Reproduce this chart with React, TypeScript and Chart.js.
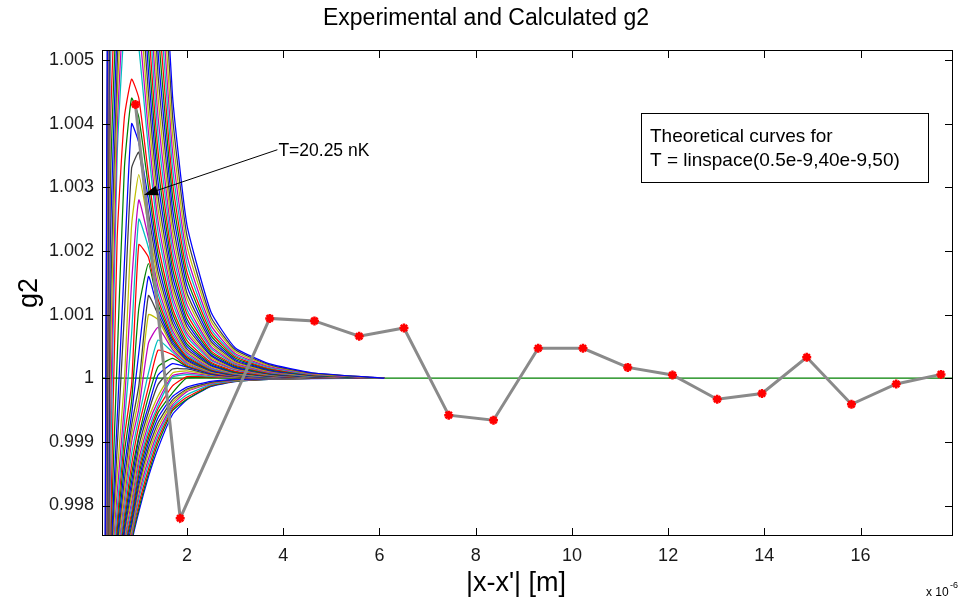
import React, { useEffect, useRef } from 'react';
import { Chart, registerables } from 'chart.js';

Chart.register(...registerables);

// ---------- axis settings ----------
const X_MIN = 0.235;
const X_MAX = 17.92;
const Y_MIN = 0.997521;
const Y_MAX = 1.005157;

const X_TICKS = [2, 4, 6, 8, 10, 12, 14, 16];
const X_TICK_LABELS = ['2', '4', '6', '8', '10', '12', '14', '16'];
const Y_TICKS = [0.998, 0.999, 1, 1.001, 1.002, 1.003, 1.004, 1.005];
const Y_TICK_LABELS = ['0.998', '0.999', '1', '1.001', '1.002', '1.003', '1.004', '1.005'];

// ---------- experimental data (|x-x'| in um, g2) ----------
const EXP_X = [0.93, 1.86, 3.72, 4.65, 5.58, 6.51, 7.44, 8.37, 9.3, 10.23, 11.16, 12.09, 13.02, 13.95, 14.88, 15.81, 16.74, 17.67];
const EXP_G2 = [1.0043, 0.9978, 1.00094, 1.0009, 1.00066, 1.00079, 0.99942, 0.99934, 1.00047, 1.00047, 1.00017, 1.00005, 0.99967, 0.99976, 1.00033, 0.99959, 0.99991, 1.00006];

// ---------- baseline g2 = 1 ----------
const BASE_X = [0.235, 17.92];
const BASE_G2 = [1, 1];

// ---------- theoretical curves (50 temperatures) ----------
// sample positions (um)
const THEORY_X = [0.235, 0.4, 0.55, 0.7, 0.85, 1.0, 1.2, 1.4, 1.7, 2.0, 2.5, 3.0, 3.7, 4.6, 6.1];
// g2 - 1 in units of 1e-4, one row per temperature (lowest T first)
const THEORY_DEV_E4 = [
  [-400, -180, -90, -45, -26, -21, -15.5, -11, -5.7, -3.4, -1.3, -0.55, -0.2, -0.05, 0],
  [-395, -175, -88, -43, -25.7, -20.5, -15, -10.2, -5.1, -3.3, -1.2, -0.5, -0.17, -0.04, 0],
  [-390, -170, -86, -41, -25.2, -19.8, -14.3, -9.6, -4.8, -3.0, -1.1, -0.45, -0.15, -0.03, 0],
  [-385, -165, -84, -39, -24.8, -19, -13.5, -9, -4.5, -2.6, -1.0, -0.4, -0.13, -0.03, 0],
  [-380, -160, -82, -37, -24.3, -18.3, -12.7, -8.4, -4.2, -2.1, -0.85, -0.35, -0.11, -0.02, 0],
  [-375, -155, -78, -30, -23.7, -17.5, -11.8, -7.7, -3.8, -1.9, -0.75, -0.3, -0.1, -0.02, 0],
  [-370, -150, -74, -29, -23.1, -16.8, -11, -7, -3.4, -1.7, -0.65, -0.25, -0.08, -0.02, 0],
  [-365, -145, -70, -27.7, -22.5, -16, -10.2, -6.2, -2.9, -1.4, -0.5, -0.2, -0.06, -0.01, 0],
  [-360, -140, -66, -27.2, -21.8, -15.2, -9.5, -5.4, -2.3, 0.05, 0.1, 0.05, 0.02, 0, 0],
  [-355, -135, -62, -26.7, -21.1, -14.4, -8.8, -4.8, -1.2, 0.25, 0.2, 0.08, 0.03, 0, 0],
  [-350, -130, -58, -26.2, -20.3, -13.6, -8.1, -4.3, 0.15, 0.55, 0.3, 0.12, 0.04, 0, 0],
  [-345, -125, -54, -25.6, -19.4, -12.7, -7.2, -3.6, 0.4, 0.83, 0.4, 0.16, 0.05, 0, 0],
  [-340, -120, -50, -24.9, -18.5, -11.7, -6.3, -2.8, 0.8, 1.15, 0.5, 0.2, 0.06, 0.01, 0],
  [-335, -115, -38, -24.2, -17.4, -10.7, -5.3, -1.0, 1.45, 1.45, 0.6, 0.25, 0.07, 0.01, 0],
  [-330, -110, -35, -23.4, -16.3, -9.5, -4.4, 0.5, 2.3, 1.75, 0.7, 0.28, 0.08, 0.01, 0],
  [-410, -37.5, -30, -22.5, -15, -9.1, -2.9, 1.8, 3.1, 1.85, 0.8, 0.3, 0.09, 0.02, 0],
  [-400, -37, -29.5, -21.5, -13.6, -7.5, -1.4, 4.4, 3.7, 2.0, 0.85, 0.32, 0.1, 0.02, 0],
  [-390, -37, -29, -20.4, -11.9, -6.2, 0.8, 6.0, 4.1, 2.2, 0.9, 0.35, 0.11, 0.02, 0],
  [-380, -37, -28, -19, -10, -4.8, 5.5, 8.0, 4.5, 2.4, 0.95, 0.38, 0.12, 0.02, 0],
  [-370, -37, -27.3, -17.7, -8.8, -3.2, 10, 9.2, 4.9, 2.6, 1.0, 0.42, 0.14, 0.03, 0],
  [-360, -37, -26.4, -16, -7.4, -1.2, 13, 10, 5.3, 2.8, 1.1, 0.46, 0.15, 0.03, 0],
  [-350, -37, -25.3, -14, -5.7, 4, 16, 10.8, 5.7, 3.0, 1.2, 0.5, 0.17, 0.03, 0],
  [-340, -36, -24, -11.7, -3.6, 11, 18, 11.6, 6.1, 3.2, 1.3, 0.55, 0.19, 0.04, 0],
  [-330, -36, -22.5, -9.3, -1, 21, 19, 12.4, 6.5, 3.4, 1.4, 0.6, 0.21, 0.04, 0],
  [-320, -36, -20.6, -7.2, 7, 25, 20.5, 13.3, 7.0, 3.7, 1.5, 0.66, 0.23, 0.05, 0],
  [-310, -35, -18, -4.3, 15, 28, 22, 14.3, 7.5, 4.0, 1.65, 0.73, 0.26, 0.05, 0],
  [-300, -35, -15, -0.5, 24, 32, 24, 15.5, 8.1, 4.3, 1.8, 0.8, 0.28, 0.06, 0],
  [-290, -34, -11, 10, 33, 35.5, 26, 16.7, 8.7, 4.6, 1.95, 0.88, 0.31, 0.07, 0],
  [-280, -33, -6.5, 18, 40, 37, 28, 18, 9.4, 5.0, 2.1, 0.95, 0.34, 0.08, 0],
  [-270, -31, 3, 33, 44, 41, 30, 19.5, 10.2, 5.4, 2.3, 1.0, 0.37, 0.09, 0],
  [-260, -30, 22, 41, 47, 44, 32, 21, 11, 5.9, 2.5, 1.1, 0.4, 0.1, 0],
  [-250, -20, 35, 55, 58, 52, 36, 23, 12, 6.5, 2.8, 1.3, 0.5, 0.15, 0],
  [-244, -10.6, 39, 60, 62.4, 55.9, 38.7, 24.7, 12.9, 7.0, 3.0, 1.4, 0.55, 0.17, 0],
  [-239, -1.1, 44, 65, 67.1, 60.1, 41.6, 26.6, 13.9, 7.5, 3.2, 1.5, 0.6, 0.19, 0],
  [-233, 8.3, 49, 71, 72.1, 64.7, 44.8, 28.6, 14.9, 8.1, 3.5, 1.62, 0.66, 0.21, 0],
  [-228, 17.8, 55, 78, 77.6, 69.6, 48.2, 30.8, 16.1, 8.7, 3.7, 1.75, 0.72, 0.23, 0],
  [-222, 27.2, 61, 85, 83.4, 74.8, 51.8, 33.1, 17.3, 9.3, 4.0, 1.9, 0.78, 0.25, 0],
  [-217, 36.7, 68, 92, 89.7, 80.4, 55.7, 35.6, 18.6, 10.1, 4.3, 2.05, 0.85, 0.28, 0],
  [-211, 46.1, 76, 101, 96.5, 86.5, 59.9, 38.3, 20.0, 10.8, 4.7, 2.2, 0.93, 0.31, 0],
  [-206, 55.6, 85, 110, 103.8, 93.0, 64.4, 41.1, 21.5, 11.6, 5.0, 2.38, 1.0, 0.34, 0],
  [-200, 65, 96, 120, 111.6, 100, 69.3, 44.2, 23.1, 12.5, 5.4, 2.56, 1.1, 0.37, 0],
  [-194, 74.4, 107, 130, 120, 107.6, 74.5, 47.6, 24.8, 13.4, 5.8, 2.75, 1.2, 0.41, 0],
  [-189, 83.9, 119, 142, 129, 115.7, 80.1, 51.2, 26.7, 14.5, 6.2, 2.95, 1.3, 0.45, 0],
  [-183, 93.3, 133, 155, 138.8, 124.4, 86.1, 55.0, 28.7, 15.6, 6.7, 3.17, 1.42, 0.5, 0],
  [-178, 102.8, 149, 169, 149.2, 133.8, 92.6, 59.2, 30.9, 16.7, 7.2, 3.4, 1.55, 0.55, 0],
  [-172, 112.2, 167, 184, 160.5, 143.9, 99.6, 63.6, 33.2, 18.0, 7.7, 3.65, 1.7, 0.6, 0],
  [-167, 121.7, 186, 201, 172.6, 154.7, 107.1, 68.4, 35.7, 19.3, 8.3, 3.9, 1.85, 0.66, 0],
  [-161, 131.1, 208, 219, 185.6, 166.4, 115.2, 73.6, 38.4, 20.8, 9.0, 4.2, 2.0, 0.72, 0],
  [-156, 140.6, 233, 239, 199.6, 178.9, 123.9, 79.1, 41.3, 22.4, 9.6, 4.5, 2.15, 0.79, 0],
  [-150, 150, 260, 260, 214.6, 192.4, 133.2, 85.1, 44.4, 24.1, 10.4, 4.8, 2.3, 0.86, 0],
];

// MATLAB (pre-2014) line colour order
const LINE_COLORS = ['#0000ff', '#008000', '#ff0000', '#00bfbf', '#bf00bf', '#bfbf00', '#404040'];

// ---------- annotations ----------
const TITLE = 'Experimental and Calculated g2';
const X_LABEL = "|x-x'| [m]";
const Y_LABEL = 'g2';
const NOTE_LINES = ['Theoretical curves for', 'T = linspace(0.5e-9,40e-9,50)'];
const ARROW_TEXT = 'T=20.25 nK';
const ARROW_FROM = { x: 3.88, y: 1.00359 };
const ARROW_TO = { x: 1.107, y: 1.00288 };

const FONT = '"Liberation Sans", Arial, Helvetica, sans-serif';

const decorPlugin = {
  id: 'decor',
  afterDraw(chart: any) {
    const { ctx, chartArea: a, scales } = chart;
    const xs = scales.x;
    const ys = scales.y;
    ctx.save();
    ctx.strokeStyle = '#000';
    ctx.lineWidth = 1;
    // axes box
    ctx.strokeRect(Math.round(a.left) + 0.5, Math.round(a.top) + 0.5, Math.round(a.right - a.left) - 1, Math.round(a.bottom - a.top) - 1);
    const tl = 8;
    ctx.beginPath();
    X_TICKS.forEach((v) => {
      const px = Math.round(xs.getPixelForValue(v)) + 0.5;
      ctx.moveTo(px, a.bottom);
      ctx.lineTo(px, a.bottom - tl);
      ctx.moveTo(px, a.top);
      ctx.lineTo(px, a.top + tl);
    });
    Y_TICKS.forEach((v) => {
      const py = Math.round(ys.getPixelForValue(v)) + 0.5;
      ctx.moveTo(a.left, py);
      ctx.lineTo(a.left + tl, py);
      ctx.moveTo(a.right, py);
      ctx.lineTo(a.right - tl, py);
    });
    ctx.stroke();

    ctx.fillStyle = '#000';
    // title
    ctx.font = `23px ${FONT}`;
    ctx.textAlign = 'center';
    ctx.textBaseline = 'middle';
    ctx.fillText(TITLE, 486, 19);
    // x label
    ctx.font = `27px ${FONT}`;
    ctx.fillText(X_LABEL, 516, 584);
    // y label
    ctx.save();
    ctx.translate(30, 293);
    ctx.rotate(-Math.PI / 2);
    ctx.fillText(Y_LABEL, 0, 0);
    ctx.restore();
    // exponent
    ctx.textAlign = 'left';
    ctx.font = `12px ${FONT}`;
    ctx.fillText('x 10', 926, 593);
    ctx.font = `9px ${FONT}`;
    ctx.fillText('-6', 950, 586);

    // note box
    const bx = 641, by = 113, bw = 287, bh = 69;
    ctx.fillStyle = '#fff';
    ctx.fillRect(bx, by, bw, bh);
    ctx.strokeRect(bx + 0.5, by + 0.5, bw, bh);
    ctx.fillStyle = '#000';
    ctx.font = `19px ${FONT}`;
    ctx.textAlign = 'left';
    ctx.fillText(NOTE_LINES[0], bx + 9, by + 24);
    ctx.fillText(NOTE_LINES[1], bx + 9, by + 48);

    // arrow annotation
    const fx = xs.getPixelForValue(ARROW_FROM.x);
    const fy = ys.getPixelForValue(ARROW_FROM.y);
    const tx = xs.getPixelForValue(ARROW_TO.x);
    const ty = ys.getPixelForValue(ARROW_TO.y);
    const ang = Math.atan2(ty - fy, tx - fx);
    const hl = 14, hw = 5;
    const bxp = tx - hl * Math.cos(ang);
    const byp = ty - hl * Math.sin(ang);
    ctx.beginPath();
    ctx.moveTo(fx, fy);
    ctx.lineTo(bxp, byp);
    ctx.stroke();
    ctx.beginPath();
    ctx.moveTo(tx, ty);
    ctx.lineTo(bxp + hw * Math.sin(ang), byp - hw * Math.cos(ang));
    ctx.lineTo(bxp - hw * Math.sin(ang), byp + hw * Math.cos(ang));
    ctx.closePath();
    ctx.fill();
    ctx.font = `17.5px ${FONT}`;
    ctx.textBaseline = 'middle';
    ctx.fillText(ARROW_TEXT, fx + 1, fy + 1);
    ctx.restore();
  },
};

export default function App() {
  const ref = useRef<HTMLCanvasElement | null>(null);
  useEffect(() => {
    if (!ref.current) return;
    const theorySets = THEORY_DEV_E4.map((row, k) => ({
      data: row.map((d, i) => ({ x: THEORY_X[i], y: 1 + d * 1e-4 })),
      borderColor: LINE_COLORS[k % LINE_COLORS.length],
      borderWidth: 1.25,
      pointRadius: 0,
      showLine: true,
      fill: false,
      tension: 0.15,
      clip: 0,
      order: 100 - k,
    }));
    const chart = new Chart(ref.current, {
      type: 'scatter',
      data: {
        datasets: [
          {
            data: EXP_X.map((x, i) => ({ x, y: EXP_G2[i] })),
            borderColor: '#8a8a8a',
            borderWidth: 3,
            showLine: true,
            pointStyle: 'star',
            pointRadius: 4.5,
            pointBorderWidth: 2.5,
            pointBorderColor: '#ff0000',
            pointBackgroundColor: '#ff0000',
            clip: 0,
            order: 0,
          } as any,
          ...theorySets,
          {
            data: BASE_X.map((x, i) => ({ x, y: BASE_G2[i] })),
            borderColor: '#008000',
            borderWidth: 1.2,
            pointRadius: 0,
            showLine: true,
            clip: 0,
            order: 500,
          },
        ],
      },
      options: {
        responsive: false,
        animation: false,
        events: [],
        layout: { padding: { top: 50, right: 1, bottom: 0, left: 0 } },
        plugins: { legend: { display: false }, tooltip: { enabled: false }, title: { display: false } },
        scales: {
          x: {
            type: 'linear',
            min: X_MIN,
            max: X_MAX,
            grid: { display: false, drawTicks: false },
            border: { display: false },
            afterBuildTicks: (s: any) => {
              s.ticks = X_TICKS.map((v) => ({ value: v }));
            },
            afterFit: (s: any) => {
              s.height = 67;
            },
            ticks: {
              padding: 9,
              color: '#1a1a1a',
              font: { family: FONT, size: 18 },
              maxRotation: 0,
              callback: (v: any) => {
                const i = X_TICKS.indexOf(Number(v));
                return i >= 0 ? X_TICK_LABELS[i] : '';
              },
            },
          },
          y: {
            type: 'linear',
            min: Y_MIN,
            max: Y_MAX,
            grid: { display: false, drawTicks: false },
            border: { display: false },
            afterBuildTicks: (s: any) => {
              s.ticks = Y_TICKS.map((v) => ({ value: v }));
            },
            afterFit: (s: any) => {
              s.width = 102;
            },
            ticks: {
              padding: 8,
              color: '#1a1a1a',
              font: { family: FONT, size: 18 },
              callback: (v: any) => {
                const i = Y_TICKS.findIndex((t) => Math.abs(t - Number(v)) < 1e-7);
                return i >= 0 ? Y_TICK_LABELS[i] : '';
              },
            },
          },
        },
      },
      plugins: [decorPlugin],
    });
    return () => chart.destroy();
  }, []);
  return (
    <div style={{ position: 'absolute', left: 0, top: 0, width: 960, height: 603, background: '#fff' }}>
      <canvas ref={ref} width={960} height={603} style={{ display: 'block', width: 960, height: 603 }} />
    </div>
  );
}
